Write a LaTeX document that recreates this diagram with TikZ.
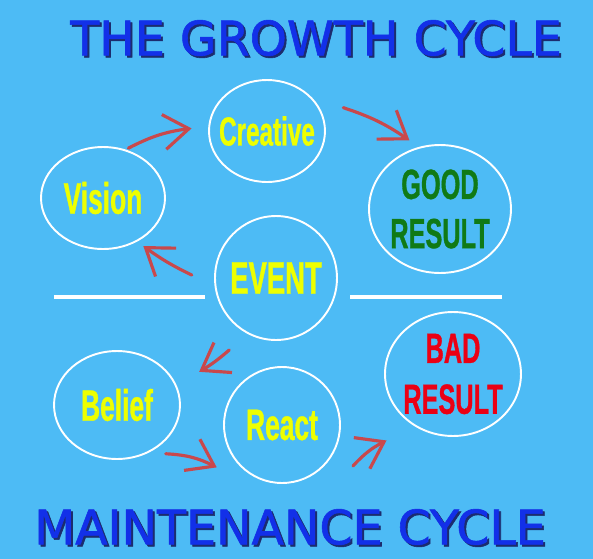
\documentclass[tikz,border=0pt]{standalone}
\usepackage{fontspec}
\usepackage{tikz}
\usetikzlibrary{arrows.meta,shapes.geometric,positioning,calc}
\newfontfamily\titlefont{DejaVu Sans}[FakeBold=1.2]
\newfontfamily\condfont{Liberation Sans}[FakeStretch=0.6,FakeBold=0.8]
\definecolor{sky}{RGB}{77,187,245}
\definecolor{ttblue}{RGB}{18,48,232}
\definecolor{ttshade}{RGB}{28,44,110}
\definecolor{lemon}{RGB}{238,255,0}
\definecolor{goodgreen}{RGB}{16,122,22}
\definecolor{badred}{RGB}{235,0,20}
\definecolor{pen}{RGB}{201,72,76}
\tikzset{
  bubble/.style={ellipse,draw=white,line width=1.1pt,inner sep=-0.5cm,align=center,text=lemon},
  redarrow/.style={draw=pen,line width=1.8pt,line cap=round,-{Straight Barb[length=0.5cm,width=0.7cm]}},
  ttl/.style={font=\titlefont\fontsize{27}{32}\selectfont,text=ttblue},
  ttlshadow/.style={font=\titlefont\fontsize{27}{32}\selectfont,text=ttshade},
  divider/.style={white,line width=1.8pt}
}
\newcommand{\bubfont}[2]{\condfont\bfseries\fontsize{#1}{#2}\selectfont}

\begin{document}
\begin{tikzpicture}[x=0.02cm,y=-0.02cm]
\fill[sky] (0,0) rectangle (593,559);
\useasboundingbox (0,0) rectangle (593,559);
% titles
\node[ttlshadow] (topshadow) at (318,40) {THE GROWTH CYCLE};
\node[ttl] (top) at (316,38) {THE GROWTH CYCLE};
\node[ttlshadow] (botshadow) at (292,529) {MAINTENANCE CYCLE};
\node[ttl] (bot) at (290,527) {MAINTENANCE CYCLE};
% growth cycle
\node[bubble,minimum width=2.48cm,minimum height=2.04cm,font=\bubfont{25}{30}] (vis) at (103,198) {Vision};
\node[bubble,minimum width=2.32cm,minimum height=2.04cm,font=\bubfont{23}{28}] (cre) at (267,131) {Creative};
\node[bubble,minimum width=2.84cm,minimum height=2.56cm,font=\bubfont{24}{28},text=goodgreen] (good) at (440,209) {GOOD\\RESULT};
\node[bubble,minimum width=2.44cm,minimum height=2.48cm,font=\bubfont{26}{30}] (event) at (276,278) {EVENT};
% maintenance cycle
\node[bubble,minimum width=2.52cm,minimum height=2.16cm,font=\bubfont{25}{30}] (bel) at (117,405) {Belief};
\node[bubble,minimum width=2.32cm,minimum height=2.32cm,font=\bubfont{25}{30}] (react) at (282,425) {React};
\node[bubble,minimum width=2.72cm,minimum height=2.48cm,font=\bubfont{24}{29},text=badred] (bad) at (453,374) {BAD\\RESULT};
% dividers
\draw[divider] (54,297) -- (205,297);
\draw[divider] (350,297) -- (502,297);
% arrows
\draw[redarrow] ($(vis)!1.04!(vis.63)$) to[bend left=10] ($(cre)!1.28!(cre.178)$);
\draw[redarrow] ($(cre)!1.37!(cre.17)$) to[bend left=8] ($(good)!1.14!(good.114)$);
\draw[redarrow] ($(event)!1.36!(event.178)$) to[bend left=5] ($(vis)!1.125!(vis.-50)$);
\draw[redarrow] ($(event)!1.37!(event.-123)$) to[bend left=5] ($(bel)!1.42!(bel.22)$);
\draw[redarrow] ($(bel)!1.17!(bel.-45)$) to[bend left=12] ($(react)!1.32!(react.-147)$);
\draw[redarrow] ($(react)!1.39!(react.-30)$) to[bend left=10] ($(bad)!1.43!(bad.-135)$);
\end{tikzpicture}
\end{document}
